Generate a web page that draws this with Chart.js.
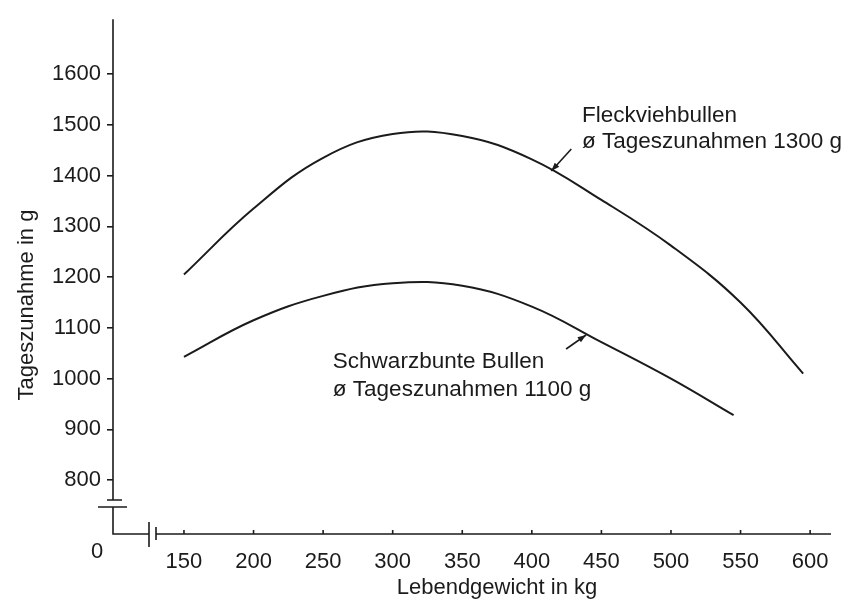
<!DOCTYPE html>
<html>
<head>
<meta charset="utf-8">
<script src="https://cdn.jsdelivr.net/npm/chart.js@4.4.1/dist/chart.umd.min.js"></script>
<style>
  html, body { margin: 0; padding: 0; background: #fff; }
  #wrap { width: 853px; height: 602px; }
</style>
</head>
<body>
<div id="wrap"><canvas id="chart"></canvas></div>
<script>
// Lebendgewicht (kg) / Tageszunahme (g)
const fleckKg = [150, 200, 250, 300, 350, 400, 450, 500, 550, 595];
const fleckGain = [1205, 1335, 1435, 1482, 1478, 1432, 1352, 1262, 1150, 1010];
const schwarzKg = [150, 200, 250, 300, 350, 400, 450, 500, 545];
const schwarzGain = [1043, 1115, 1163, 1188, 1183, 1142, 1072, 1000, 928];

const xTicks = [150, 200, 250, 300, 350, 400, 450, 500, 550, 600];
const yTicks = [800, 900, 1000, 1100, 1200, 1300, 1400, 1500, 1600];
const originLabel = '0';

const xTitle = 'Lebendgewicht in kg';
const yTitle = 'Tageszunahme in g';
const fleckLabel = ['Fleckviehbullen', 'ø Tageszunahmen 1300 g'];
const schwarzLabel = ['Schwarzbunte Bullen', 'ø Tageszunahmen 1100 g'];

const ink = '#1b1b1b';
const font = '"Liberation Sans", Arial, Helvetica, sans-serif';

const toPoints = (xs, ys) => xs.map((v, i) => ({ x: v, y: ys[i] }));

// hand drawn style axes with the two breaks, titles and arrow notes
const drawing = {
  id: 'drawing',
  afterDraw(chart) {
    const { ctx, chartArea: a, scales: { x, y } } = chart;
    const x0 = a.left, y0 = a.bottom;
    ctx.save();
    ctx.strokeStyle = ink;
    ctx.fillStyle = ink;
    ctx.lineWidth = 1.6;

    ctx.beginPath();
    ctx.moveTo(x0, a.top); ctx.lineTo(x0, y0 - 34);
    ctx.moveTo(x0 - 6, y0 - 34); ctx.lineTo(x0 + 9, y0 - 34);
    ctx.moveTo(x0 - 15, y0 - 27); ctx.lineTo(x0 + 14, y0 - 27);
    ctx.moveTo(x0, y0 - 27); ctx.lineTo(x0, y0);
    ctx.lineTo(x0 + 36, y0);
    ctx.moveTo(x0 + 36, y0 - 12); ctx.lineTo(x0 + 36, y0 + 13);
    ctx.moveTo(x0 + 43, y0 - 7); ctx.lineTo(x0 + 43, y0 + 6);
    ctx.moveTo(x0 + 43, y0); ctx.lineTo(a.right, y0);
    x.ticks.forEach((t) => {
      const px = x.getPixelForValue(t.value);
      ctx.moveTo(px, y0); ctx.lineTo(px, y0 - 4);
    });
    ctx.stroke();

    ctx.font = `22px ${font}`;
    ctx.textAlign = 'center';
    ctx.textBaseline = 'middle';
    ctx.fillText(originLabel, x0 - 16, y0 + 18);
    ctx.fillText(xTitle, 497, 588);
    ctx.save();
    ctx.translate(27, 305);
    ctx.rotate(-Math.PI / 2);
    ctx.fillText(yTitle, 0, 0);
    ctx.restore();

    ctx.font = `22.5px ${font}`;
    const note = (lines, kg, g, gap) => {
      ctx.textAlign = 'left';
      lines.forEach((s, i) => ctx.fillText(s, x.getPixelForValue(kg), y.getPixelForValue(g) + i * gap));
    };
    note(fleckLabel, 436, 1517, 26);
    note(schwarzLabel, 257, 1034, 28);

    const arrow = (kg, g, dx, dy) => {
      const tx = x.getPixelForValue(kg), ty = y.getPixelForValue(g);
      const ang = Math.atan2(-dy, -dx);
      ctx.beginPath();
      ctx.moveTo(tx + dx, ty + dy); ctx.lineTo(tx, ty);
      ctx.stroke();
      ctx.beginPath();
      ctx.moveTo(tx, ty);
      ctx.lineTo(tx - 9 * Math.cos(ang - 0.35), ty - 9 * Math.sin(ang - 0.35));
      ctx.lineTo(tx - 9 * Math.cos(ang + 0.35), ty - 9 * Math.sin(ang + 0.35));
      ctx.closePath();
      ctx.fill();
    };
    arrow(414, 1409, 20, -22);
    arrow(439, 1086, -20, 14);
    ctx.restore();
  }
};

new Chart(document.getElementById('chart'), {
  type: 'scatter',
  data: {
    datasets: [
      { label: fleckLabel[0], data: toPoints(fleckKg, fleckGain) },
      { label: schwarzLabel[0], data: toPoints(schwarzKg, schwarzGain) },
    ],
  },
  options: {
    responsive: true,
    maintainAspectRatio: false,
    animation: false,
    layout: { padding: { top: 8, right: 22, bottom: 0, left: 0 } },
    elements: {
      point: { radius: 0 },
      line: { borderColor: ink, borderWidth: 2, tension: 0.4 },
    },
    datasets: { scatter: { showLine: true, borderColor: ink, borderWidth: 2 } },
    plugins: { legend: { display: false }, tooltip: { enabled: false } },
    scales: {
      x: {
        type: 'linear',
        min: 99,
        max: 615,
        afterBuildTicks: (s) => { s.ticks = xTicks.map((v) => ({ value: v })); },
        afterFit: (s) => { s.height = 68; },
        grid: { display: false },
        border: { display: false },
        ticks: { color: ink, padding: 7, maxRotation: 0, font: { family: font, size: 22 }, callback: (v) => String(v) },
      },
      y: {
        type: 'linear',
        min: 694,
        max: 1708,
        afterBuildTicks: (s) => { s.ticks = yTicks.map((v) => ({ value: v })); },
        afterFit: (s) => { s.width = 113; },
        grid: { drawOnChartArea: false, drawTicks: true, tickLength: 6, color: ink, lineWidth: 1.6 },
        border: { display: false },
        ticks: { color: ink, padding: 6, font: { family: font, size: 22 }, callback: (v) => String(v) },
      },
    },
  },
  plugins: [drawing],
});
</script>
</body>
</html>
